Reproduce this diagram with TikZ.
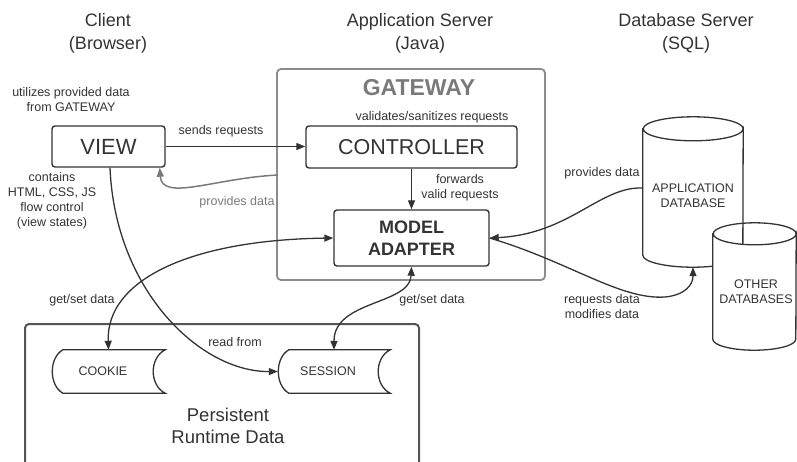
\documentclass[tikz,border=0pt]{standalone}
\usepackage{fontspec}
\setmainfont{Liberation Sans}
\usetikzlibrary{arrows.meta}
\definecolor{ink}{HTML}{333333}
\definecolor{gwline}{HTML}{8C8C8C}
\definecolor{gwtext}{HTML}{7A7A7A}
\definecolor{pline}{HTML}{555555}

\begin{document}
\begin{tikzpicture}[x=1pt,y=-1pt,
  >={Triangle[length=9pt,width=7pt]},
  every node/.style={text=ink, inner sep=0pt},
  small/.style={font=\fontsize{12.5}{15}\selectfont, align=center},
  title/.style={font=\fontsize{18}{23}\selectfont, align=center},
  box/.style={draw=ink, line width=1.4pt, rounded corners=3pt},
  gatebox/.style={draw=gwline, line width=1.8pt, rounded corners=4pt},
  pbox/.style={draw=pline, line width=2pt, rounded corners=4pt},
  shapeline/.style={draw=ink, line width=1.3pt},
  link/.style={draw=ink, line width=1.3pt, ->},
  dlink/.style={draw=ink, line width=1.3pt, <->},
  glink/.style={draw=gwtext, line width=1.5pt, ->}]
\clip (0,0) rectangle (797,461);

% column titles
\node[title] (tclient) at (108,33.5) {Client\\(Browser)};
\node[title] (tapp) at (420,33.5) {Application Server\\(Java)};
\node[title] (tdb) at (686,33.5) {Database Server\\(SQL)};

% gateway container
\node[gatebox, minimum width=268, minimum height=211] (gateway) at (411,174.5) {};
\node[font=\fontsize{23}{26}\selectfont\bfseries, text=gwtext] (gwlabel) at (419,88) {GATEWAY};
\node[small] (valid) at (432,117) {validates/sanitizes requests};
\node[box, minimum width=211, minimum height=42, font=\fontsize{21.5}{24}\selectfont] (controller) at (411.5,147) {CONTROLLER};
\node[box, minimum width=155, minimum height=56, font=\fontsize{18}{22}\selectfont\bfseries, align=center] (adapter) at (411.5,238) {MODEL\\ADAPTER};
\node[small] (fwd) at (460,187.5) {forwards\\valid requests};

% client side
\node[box, minimum width=113, minimum height=41, font=\fontsize{22}{24}\selectfont] (view) at (108.5,146.5) {VIEW};
\node[small] (utilizes) at (71,100) {utilizes provided data\\from GATEWAY};
\node[small] (contains) at (52,201) {contains\\HTML, CSS, JS\\flow control\\(view states)};
\node[small] (sends) at (221,131) {sends requests};
\node[small, text=gwtext] (provides) at (237,202) {provides data};

% persistent runtime data
\node[pbox, minimum width=394, minimum height=170, anchor=north west] (persist) at (24,323) {};
\node[title, font=\fontsize{18.5}{22}\selectfont] (ptext) at (228,426) {Persistent\\Runtime Data};

\node[minimum width=113, minimum height=43] (cookie) at (108.5,371.5) {};
\node[minimum width=112, minimum height=43] (session) at (334,371.5) {};
\draw[shapeline] ([xshift=11pt]cookie.north west) -- (cookie.north east)
  .. controls +(-16,8) and +(-16,-8) .. (cookie.south east)
  -- ([xshift=11pt]cookie.south west)
  .. controls +(-14,-8) and +(-14,8) .. ([xshift=11pt]cookie.north west) -- cycle;
\draw[shapeline] ([xshift=11pt]session.north west) -- (session.north east)
  .. controls +(-16,8) and +(-16,-8) .. (session.south east)
  -- ([xshift=11pt]session.south west)
  .. controls +(-14,-8) and +(-14,8) .. ([xshift=11pt]session.north west) -- cycle;
\node[small] (cookietxt) at (103,371.5) {COOKIE};
\node[small] (sessiontxt) at (328,371.5) {SESSION};

% databases
\node[minimum width=100, minimum height=126] (appdb) at (693,192) {};
\draw[shapeline, fill=white] (appdb.north west) -- (appdb.south west)
  arc[start angle=180, end angle=360, x radius=50pt, y radius=12pt]
  -- (appdb.north east)
  arc[start angle=0, end angle=-180, x radius=50pt, y radius=12pt] -- cycle;
\draw[shapeline] (appdb.north east)
  arc[start angle=0, end angle=180, x radius=50pt, y radius=12pt];
\node[small] (appdbtxt) at (693,195.5) {APPLICATION\\DATABASE};

\node[minimum width=83, minimum height=105] (otherdb) at (754.5,286.5) {};
\draw[shapeline, fill=white] (otherdb.north west) -- (otherdb.south west)
  arc[start angle=180, end angle=360, x radius=41.5pt, y radius=11pt]
  -- (otherdb.north east)
  arc[start angle=0, end angle=-180, x radius=41.5pt, y radius=11pt] -- cycle;
\draw[shapeline] (otherdb.north east)
  arc[start angle=0, end angle=180, x radius=41.5pt, y radius=11pt];
\node[small] (otherdbtxt) at (756,291.5) {OTHER\\DATABASES};

\node[small] (dbprov) at (602,173) {provides data};
\node[small] (reqs) at (602,307) {requests data\\modifies data};
\node[small] (gsl) at (82,300) {get/set data};
\node[small] (gsr) at (432,300) {get/set data};
\node[small] (readfrom) at (235,342) {read from};

% connectors
\coordinate (pdstart) at (278,175);
\coordinate (pdbstart) at (643,188);
\coordinate (dbfoot) at ([yshift=-12pt]appdb.south);

\draw[link] (view.east) -- (view.east -| controller.west);
\draw[link] (controller.south) -- (adapter.north);
\draw[glink] (pdstart) .. controls (215,178) and (162,202) .. ([xshift=-6pt]view.south east);
\draw[link] ([xshift=1.5pt]view.south) .. controls (115,290) and (200,372) .. (session.west);
\draw[dlink] (adapter.west) .. controls (190,240) and (106,280) .. (cookie.north);
\draw[dlink] (adapter.south) .. controls (410,305) and (334,300) .. (session.north);
\draw[link] (pdbstart) .. controls (600,186) and (570,234) .. (adapter.east);
\draw[link] (adapter.east) .. controls (570,262) and (620,300) .. (665,297)
  .. controls (685,295) and (693,285) .. (dbfoot);
\end{tikzpicture}
\end{document}
